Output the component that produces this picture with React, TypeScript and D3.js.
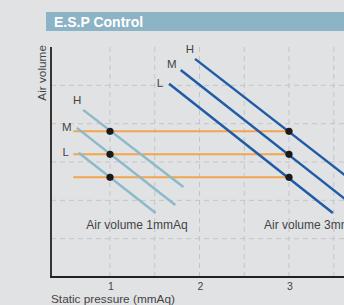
import React from 'react';
import * as d3 from 'd3';

// chart values
const speeds = ['H', 'M', 'L'];
const setLevels = [3.8, 3.2, 2.6]; // orange air volume levels for H, M, L
const levelRange = [0.59, 3.0];
const pressureMarks = [1, 3];
const xTicks = [1, 2, 3];
const gridX = [1, 1.5, 2, 2.5, 3, 3.5];
const gridY = [1, 2, 3, 4, 5];
// fan curves, [start, end] as [pressure, volume]
const curves1mm = [
  [[0.7, 4.36], [1.82, 2.35]],
  [[0.63, 3.89], [1.73, 1.88]],
  [[0.65, 3.24], [1.51, 1.67]],
];
const curves3mm = [
  [[1.95, 5.69], [3.65, 2.61]],
  [[1.79, 5.4], [3.65, 1.99]],
  [[1.66, 5.04], [3.49, 1.67]],
];
const curveNames = ['Air volume 1mmAq', 'Air volume 3mmAq'];

const W = 344;
const H = 305;
const font = '"Liberation Sans", Arial, sans-serif';

const App = () => {
  const x = d3.scaleLinear().domain([1, 3]).range([110, 289]);
  const y = d3.scaleLinear().domain([0, 6]).range([277, 47]);
  const left = 51;
  const line = d3.line<number[]>().x(d => x(d[0])).y(d => y(d[1]));

  // label offsets from the start of each curve (H, M, L)
  const off1 = [[-6, -6], [-10, 3], [-13, 3]];
  const off3 = [[-5, -6], [-9, -2], [-9, 3]];

  return (
    <svg width={W} height={H} style={{ position: 'absolute', left: 0, top: 0, background: '#e1e2e4' }}>
      <rect x={0} y={0} width={W} height={H} fill="#e1e2e4" />
      {/* title bar */}
      <rect x={46} y={12} width={W - 46} height={19} fill="#8db3c6" />
      <text x={54} y={27} fill="#fff" fontFamily={font} fontWeight="bold" fontSize={14}>E.S.P Control</text>

      {/* grid */}
      <g stroke="#c2c4c8" strokeWidth={1} strokeDasharray="5,4">
        {gridX.map(g => (
          <line key={'gx' + g} x1={x(g)} x2={x(g)} y1={y(6)} y2={y(0)} />
        ))}
        {gridY.map(g => (
          <line key={'gy' + g} x1={left} x2={W} y1={y(g)} y2={y(g)} />
        ))}
      </g>

      {/* orange levels */}
      <g stroke="#f2a550" strokeWidth={2}>
        {setLevels.map((v, i) => (
          <line key={'o' + i} x1={x(levelRange[0])} x2={x(levelRange[1])} y1={y(v)} y2={y(v)} />
        ))}
      </g>

      {/* fan curves */}
      <g fill="none" strokeWidth={2.5}>
        {curves1mm.map((c, i) => (
          <path key={'a' + i} d={line(c) || ''} stroke="#8dbacb" />
        ))}
        {curves3mm.map((c, i) => (
          <path key={'b' + i} d={line(c) || ''} stroke="#1f5ba6" />
        ))}
      </g>

      {/* intersection dots */}
      <g fill="#1a1a1a">
        {pressureMarks.map(p =>
          setLevels.map((v, i) => <circle key={p + '-' + i} cx={x(p)} cy={y(v)} r={3.6} />)
        )}
      </g>

      {/* speed labels */}
      <g fontFamily={font} fontSize={11.5} fill="#444" textAnchor="middle">
        {speeds.map((s, i) => (
          <text key={'l1' + s} x={x(curves1mm[i][0][0]) + off1[i][0]} y={y(curves1mm[i][0][1]) + off1[i][1]}>{s}</text>
        ))}
        {speeds.map((s, i) => (
          <text key={'l3' + s} x={x(curves3mm[i][0][0]) + off3[i][0]} y={y(curves3mm[i][0][1]) + off3[i][1]}>{s}</text>
        ))}
      </g>

      {/* curve names */}
      <g fontFamily={font} fontSize={12} fill="#444">
        <text x={137} y={229} textAnchor="middle">{curveNames[0]}</text>
        <text x={264} y={229}>{curveNames[1]}</text>
      </g>

      {/* axes */}
      <g stroke="#222" strokeWidth={1.8}>
        <line x1={left} x2={left} y1={y(6)} y2={y(0)} />
        <line x1={left - 0.9} x2={W} y1={y(0)} y2={y(0)} />
      </g>
      <g fontFamily={font} fontSize={10.5} fill="#444" textAnchor="middle">
        {xTicks.map(t => (
          <text key={'t' + t} x={x(t) + 1} y={290}>{t}</text>
        ))}
      </g>
      <text x={left} y={303} fontFamily={font} fontSize={11.8} fill="#444">Static pressure (mmAq)</text>
      <text transform={`translate(46,45) rotate(-90)`} textAnchor="end" fontFamily={font} fontSize={11.8} fill="#444">Air volume</text>
    </svg>
  );
};

export default App;
